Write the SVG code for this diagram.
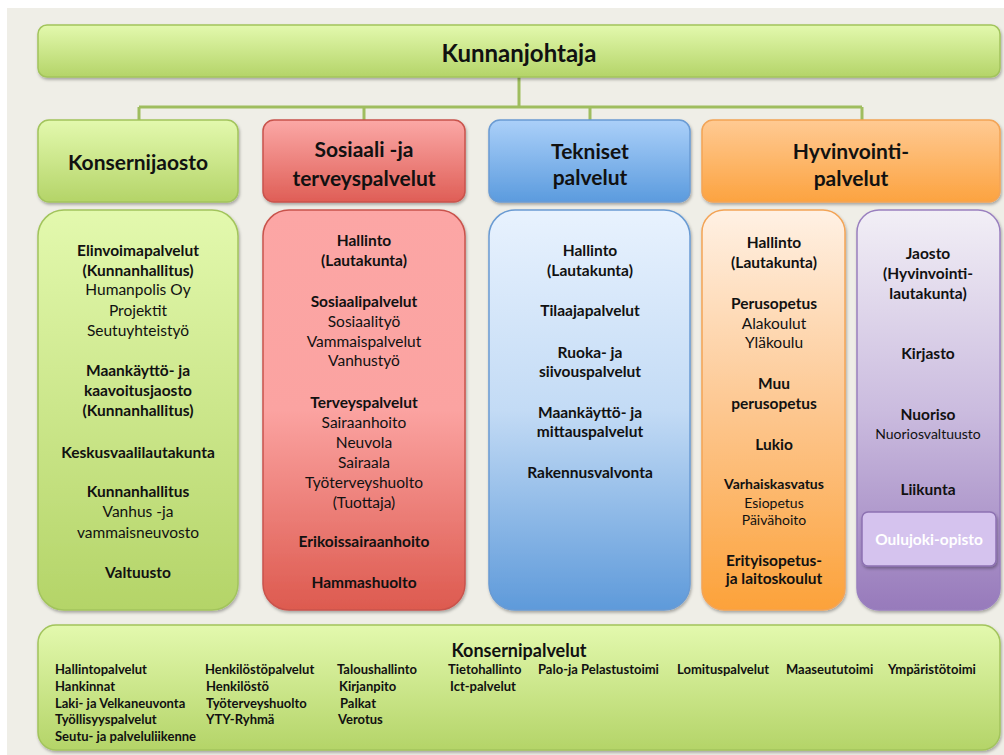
<svg xmlns="http://www.w3.org/2000/svg" width="1004" height="755" viewBox="0 0 1004 755">
<defs>
<linearGradient id="gGreen" x1="0" y1="0" x2="0" y2="1"><stop offset="0" stop-color="#e3f9ae"/><stop offset="1" stop-color="#b4d468"/></linearGradient>
<linearGradient id="gRedH" x1="0" y1="0" x2="0" y2="1"><stop offset="0" stop-color="#fba8a6"/><stop offset="1" stop-color="#df5e56"/></linearGradient>
<linearGradient id="gRedB" x1="0" y1="0" x2="0" y2="1"><stop offset="0" stop-color="#fca6a5"/><stop offset="0.5" stop-color="#fba3a1"/><stop offset="1" stop-color="#dd5a4f"/></linearGradient>
<linearGradient id="gBlueH" x1="0" y1="0" x2="0" y2="1"><stop offset="0" stop-color="#abd0f9"/><stop offset="1" stop-color="#5b9bde"/></linearGradient>
<linearGradient id="gBlueB" x1="0" y1="0" x2="0" y2="1"><stop offset="0" stop-color="#e8f2fe"/><stop offset="0.5" stop-color="#c3dbf5"/><stop offset="1" stop-color="#5e9ada"/></linearGradient>
<linearGradient id="gOrH" x1="0" y1="0" x2="0" y2="1"><stop offset="0" stop-color="#ffca93"/><stop offset="1" stop-color="#fca340"/></linearGradient>
<linearGradient id="gOrB" x1="0" y1="0" x2="0" y2="1"><stop offset="0" stop-color="#fff1e4"/><stop offset="0.5" stop-color="#fdc790"/><stop offset="1" stop-color="#fca23a"/></linearGradient>
<linearGradient id="gPu" x1="0" y1="0" x2="0" y2="1"><stop offset="0" stop-color="#f2eff6"/><stop offset="0.5" stop-color="#cbbcdf"/><stop offset="1" stop-color="#977abb"/></linearGradient>
<filter id="sh" x="-10%" y="-10%" width="120%" height="120%"><feDropShadow dx="1" dy="2" stdDeviation="1.5" flood-color="#000" flood-opacity="0.3"/></filter>
</defs>
<style>
text{font-family:Lato,"Open Sans","Liberation Sans",sans-serif;fill:#111;text-anchor:middle;dominant-baseline:central}
.b{font-weight:bold}
.h{font-weight:bold;font-size:21px}
.t{font-size:15.5px}
.s{font-size:14px}
.f{font-weight:bold;font-size:13px;text-anchor:start}
.green{fill:url(#gGreen);stroke:#a2c45c;stroke-width:1.5}
.conn{fill:none;stroke:#9fbd5f;stroke-width:3}
</style>
<rect x="0" y="0" width="1004" height="755" fill="#ffffff"/>
<rect x="7" y="8" width="997" height="747" fill="#efeee7"/>

<g id="connectors">
<path class="conn" d="M519 77 V107 M139 107 H862 M139 107 V120 M364 107 V120 M590 107 V120 M862 107 V120"/>
</g>

<g id="kunnanjohtaja">
<rect class="green" x="38" y="25" width="962" height="52" rx="9" filter="url(#sh)"/>
<text class="b" x="519" y="52" style="font-size:24px">Kunnanjohtaja</text>
</g>

<g id="konsernijaosto">
<rect class="green" x="38" y="120" width="200" height="82" rx="11" filter="url(#sh)"/>
<text class="h" x="138" y="161">Konsernijaosto</text>
</g>
<g id="sosiaali">
<rect x="263" y="120" width="202" height="82" rx="11" fill="url(#gRedH)" stroke="#c9534c" stroke-width="1.5" filter="url(#sh)"/>
<text class="h" x="364" y="148">Sosiaali -ja</text>
<text class="h" x="364" y="177">terveyspalvelut</text>
</g>
<g id="tekniset">
<rect x="489" y="120" width="201" height="82" rx="11" fill="url(#gBlueH)" stroke="#6a9bd3" stroke-width="1.5" filter="url(#sh)"/>
<text class="h" x="590" y="150">Tekniset</text>
<text class="h" x="590" y="176">palvelut</text>
</g>
<g id="hyvinvointi">
<rect x="702" y="120" width="298" height="82" rx="11" fill="url(#gOrH)" stroke="#f3a456" stroke-width="1.5" filter="url(#sh)"/>
<text class="h" x="851" y="150">Hyvinvointi-</text>
<text class="h" x="851" y="177">palvelut</text>
</g>

<g id="konserni-body">
<rect class="green" x="38" y="210" width="200" height="400" rx="26" filter="url(#sh)"/>
<text class="t b" x="138" y="250">Elinvoimapalvelut</text>
<text class="t b" x="138" y="270">(Kunnanhallitus)</text>
<text class="t" x="138" y="289">Humanpolis Oy</text>
<text class="t" x="138" y="310">Projektit</text>
<text class="t" x="138" y="330">Seutuyhteistyö</text>
<text class="t b" x="138" y="370">Maankäyttö- ja</text>
<text class="t b" x="138" y="390">kaavoitusjaosto</text>
<text class="t b" x="138" y="410">(Kunnanhallitus)</text>
<text class="t b" x="138" y="452">Keskusvaalilautakunta</text>
<text class="t b" x="138" y="491">Kunnanhallitus</text>
<text class="t" x="138" y="511">Vanhus -ja</text>
<text class="t" x="138" y="532">vammaisneuvosto</text>
<text class="t b" x="138" y="572">Valtuusto</text>
</g>

<g id="sosiaali-body">
<rect x="263" y="210" width="202" height="400" rx="26" fill="url(#gRedB)" stroke="#c9534c" stroke-width="1.5" filter="url(#sh)"/>
<text class="t b" x="364" y="240">Hallinto</text>
<text class="t b" x="364" y="260">(Lautakunta)</text>
<text class="t b" x="364" y="301">Sosiaalipalvelut</text>
<text class="t" x="364" y="321">Sosiaalityö</text>
<text class="t" x="364" y="341">Vammaispalvelut</text>
<text class="t" x="364" y="360">Vanhustyö</text>
<text class="t b" x="364" y="402">Terveyspalvelut</text>
<text class="t" x="364" y="422">Sairaanhoito</text>
<text class="t" x="364" y="442">Neuvola</text>
<text class="t" x="364" y="462">Sairaala</text>
<text class="t" x="364" y="482">Työterveyshuolto</text>
<text class="t" x="364" y="502">(Tuottaja)</text>
<text class="t b" x="364" y="541">Erikoissairaanhoito</text>
<text class="t b" x="364" y="582">Hammashuolto</text>
</g>

<g id="tekniset-body">
<rect x="489" y="210" width="201" height="400" rx="26" fill="url(#gBlueB)" stroke="#6a9bd3" stroke-width="1.5" filter="url(#sh)"/>
<text class="t b" x="590" y="250">Hallinto</text>
<text class="t b" x="590" y="270">(Lautakunta)</text>
<text class="t b" x="590" y="310">Tilaajapalvelut</text>
<text class="t b" x="590" y="352">Ruoka- ja</text>
<text class="t b" x="590" y="371">siivouspalvelut</text>
<text class="t b" x="590" y="412">Maankäyttö- ja</text>
<text class="t b" x="590" y="431">mittauspalvelut</text>
<text class="t b" x="590" y="472">Rakennusvalvonta</text>
</g>

<g id="hyvinvointi-body">
<rect x="702" y="210" width="143" height="400" rx="22" fill="url(#gOrB)" stroke="#f3a456" stroke-width="1.5" filter="url(#sh)"/>
<text class="t b" x="774" y="242">Hallinto</text>
<text class="t b" x="774" y="262">(Lautakunta)</text>
<text class="t b" x="774" y="303">Perusopetus</text>
<text class="t" x="774" y="323">Alakoulut</text>
<text class="t" x="774" y="342">Yläkoulu</text>
<text class="t b" x="774" y="383">Muu</text>
<text class="t b" x="774" y="403">perusopetus</text>
<text class="t b" x="774" y="444">Lukio</text>
<text class="s b" x="774" y="483">Varhaiskasvatus</text>
<text class="s" x="774" y="502">Esiopetus</text>
<text class="s" x="774" y="519">Päivähoito</text>
<text class="t b" x="774" y="560">Erityisopetus-</text>
<text class="t b" x="774" y="578">ja laitoskoulut</text>
</g>

<g id="jaosto-body">
<rect x="857" y="210" width="143" height="400" rx="22" fill="url(#gPu)" stroke="#9a80bf" stroke-width="1.5" filter="url(#sh)"/>
<text class="t b" x="928" y="253">Jaosto</text>
<text class="t b" x="928" y="273">(Hyvinvointi-</text>
<text class="t b" x="928" y="293">lautakunta)</text>
<text class="t b" x="928" y="353">Kirjasto</text>
<text class="t b" x="928" y="414">Nuoriso</text>
<text class="s" x="928" y="433">Nuoriosvaltuusto</text>
<text class="t b" x="928" y="489">Liikunta</text>
</g>

<g id="oulujoki-opisto">
<rect x="862" y="512" width="134" height="54" rx="6" fill="#d5c3ee" stroke="#8d72b2" stroke-width="1.5" filter="url(#sh)"/>
<text class="t b" x="929" y="539" style="fill:#ffffff">Oulujoki-opisto</text>
</g>

<g id="konsernipalvelut">
<rect class="green" x="38" y="625" width="962" height="125" rx="18" filter="url(#sh)"/>
<text class="b" x="519" y="650" style="font-size:18px">Konsernipalvelut</text>
<text class="f" x="55" y="669">Hallintopalvelut</text>
<text class="f" x="55" y="686">Hankinnat</text>
<text class="f" x="55" y="703">Laki- ja Velkaneuvonta</text>
<text class="f" x="55" y="719">Työllisyyspalvelut</text>
<text class="f" x="55" y="736">Seutu- ja palveluliikenne</text>
<text class="f" x="205" y="669">Henkilöstöpalvelut</text>
<text class="f" x="206" y="686">Henkilöstö</text>
<text class="f" x="206" y="703">Työterveyshuolto</text>
<text class="f" x="206" y="719">YTY-Ryhmä</text>
<text class="f" x="337" y="669">Taloushallinto</text>
<text class="f" x="339" y="686">Kirjanpito</text>
<text class="f" x="340" y="703">Palkat</text>
<text class="f" x="338" y="719">Verotus</text>
<text class="f" x="448" y="669">Tietohallinto</text>
<text class="f" x="450" y="686">Ict-palvelut</text>
<text class="f" x="538" y="669">Palo-ja Pelastustoimi</text>
<text class="f" x="677" y="669">Lomituspalvelut</text>
<text class="f" x="786" y="669">Maaseututoimi</text>
<text class="f" x="888" y="669">Ympäristötoimi</text>
</g>
</svg>
